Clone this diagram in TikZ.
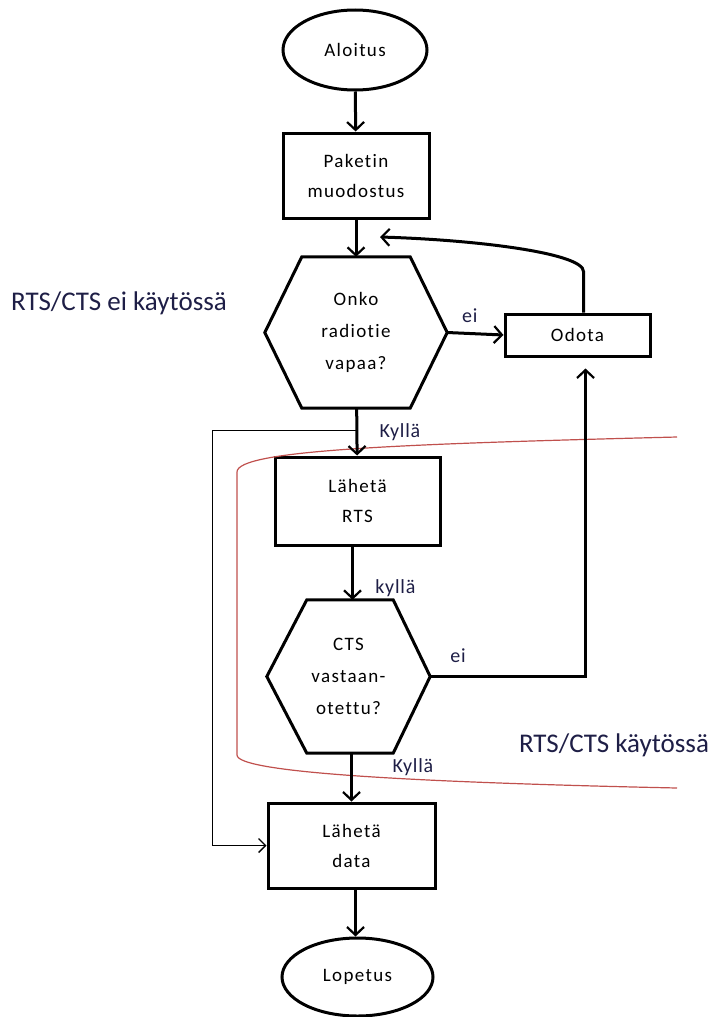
\documentclass[tikz,border=0pt]{standalone}
\usepackage{fontspec}
\setmainfont{Carlito}[Ligatures=NoCommon]
\newfontfamily\boxfont{Carlito}[LetterSpace=7,Ligatures=NoCommon]
\newfontfamily\lblfont{Carlito}[LetterSpace=4,Ligatures=NoCommon]
\usepackage{tikz}
\usetikzlibrary{shapes,arrows.meta}
\usetikzlibrary{calc}
\definecolor{labelblue}{RGB}{30,30,70}
\definecolor{zonered}{RGB}{192,80,77}

\begin{document}
\begin{tikzpicture}[x=1pt,y=-1pt,
	flow/.style={line width=3pt,-{Straight Barb[length=8pt,width=17pt,line width=2.2pt]}},
	thinflow/.style={line width=1.4pt,-{Straight Barb[length=7pt,width=14pt,line width=1.4pt]}},
	box/.style={draw,line width=3pt,rectangle,align=center,font=\boxfont\fontsize{19}{30}\selectfont},
	term/.style={draw,line width=3pt,ellipse,align=center,font=\boxfont\fontsize{19}{30}\selectfont},
	hexa/.style={rectangle,align=center,font=\boxfont\fontsize{19}{32}\selectfont},
	lbl/.style={text=labelblue,font=\lblfont\fontsize{20}{22}\selectfont},
	zone/.style={text=labelblue,font=\fontsize{27}{30}\selectfont}]
	\useasboundingbox (0,0) rectangle (710,1017);

	% solmut
	\node[term,minimum width=144pt,minimum height=80pt] (start) at (355,50) {Aloitus};
	\node[box,minimum width=146pt,minimum height=85pt] (pak) at (356,175.5) {Paketin\\muodostus};
	\node[hexa,minimum width=182pt,minimum height=151pt] (q1) at (356,332.5) {Onko\\radiotie\\vapaa?};
	\node[box,minimum width=145pt,minimum height=42pt] (odota) at (577.5,335) {Odota};
	\node[box,minimum width=165pt,minimum height=88pt] (rts) at (357.5,501) {Lähetä\\RTS};
	\node[hexa,minimum width=163pt,minimum height=153pt] (q2) at (348.5,676.5) {CTS\\vastaan-\\otettu?};
	\node[box,minimum width=167pt,minimum height=85pt] (data) at (351.5,845.5) {Lähetä\\data};
	\node[term,minimum width=151pt,minimum height=78pt] (stop) at (357.5,977) {Lopetus};

	% kuusikulmiot
	\draw[line width=3pt] (q1.west) -- ([xshift=37pt]q1.north west) -- ([xshift=-37pt]q1.north east)
		-- (q1.east) -- ([xshift=-37pt]q1.south east) -- ([xshift=37pt]q1.south west) -- cycle;
	\draw[line width=3pt] (q2.west) -- ([xshift=40pt]q2.north west) -- ([xshift=-37pt]q2.north east)
		-- (q2.east) -- ([xshift=-37pt]q2.south east) -- ([xshift=40pt]q2.south west) -- cycle;

	% alueet
	\draw[zonered,line width=1.2pt] (677,437) .. controls (400,444) and (237,450) .. (237,472)
		-- (237,755) .. controls (237,772) and (400,782) .. (677,788);
	\node[zone] (eikaytossa) at (119,303) {RTS/CTS ei käytössä};
	\node[zone] (kaytossa) at (614,745) {RTS/CTS käytössä};

	% nuolet
	\coordinate (back) at (380,237);
	\coordinate (split) at ($(q1.south)!0.47!(rts.north)$);
	\draw[flow] (start) -- (pak);
	\draw[flow] (pak) -- (q1);
	\draw[flow] (q1.east) -- (odota.west) node[lbl,pos=0.4,above=6pt] {ei};
	\draw[flow] ([xshift=6pt]odota.north) -- ++(0,-41) .. controls ++(0,-18) and (480,240) .. (back);
	\draw[flow] (q1) -- (rts);
	\draw[thinflow] (split) -- ++(-144,0) |- (data.west);
	\node[lbl] (kylla1) at (400,432) {Kyllä};
	\draw[flow] ([xshift=-5pt]rts.south) -- ([xshift=-5pt]rts.south |- q2.north) node[lbl,pos=0.78,right=18pt] {kyllä};
	\draw[flow] (q2.east) -| ([xshift=8pt,yshift=-11pt]odota.south);
	\node[lbl] (ei2) at (458,656) {ei};
	\draw[flow] ([xshift=3pt]q2.south) -- ([xshift=3pt]q2.south |- data.north);
	\node[lbl] (kylla2) at (413,767) {Kyllä};
	\draw[flow] ([xshift=4pt]data.south) -- ([xshift=4pt]data.south |- stop.north);
\end{tikzpicture}
\end{document}
